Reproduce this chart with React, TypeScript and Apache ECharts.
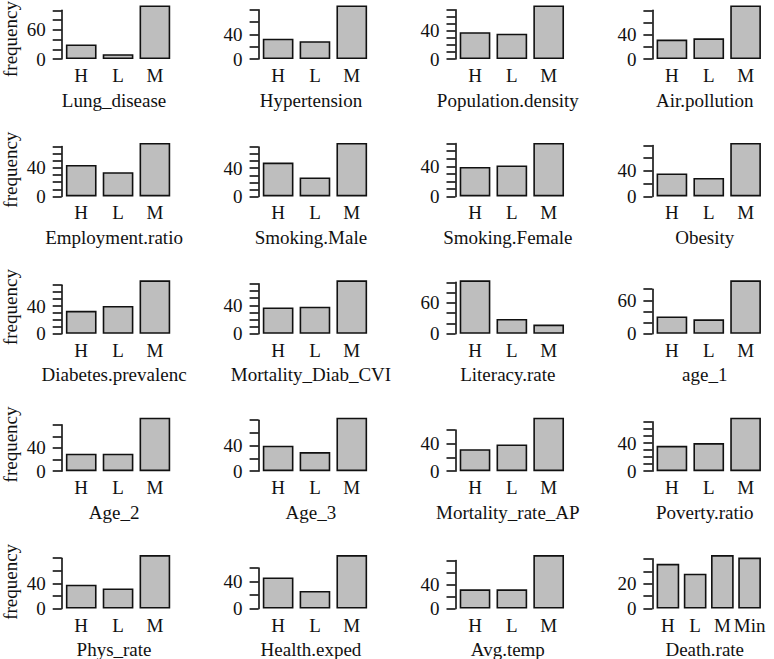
import React, { useEffect, useRef } from "react";
import * as echarts from "echarts";

// ---------- data ----------
const panelNames = [
  "Lung_disease", "Hypertension", "Population.density", "Air.pollution",
  "Employment.ratio", "Smoking.Male", "Smoking.Female", "Obesity",
  "Diabetes.prevalenc", "Mortality_Diab_CVI", "Literacy.rate", "age_1",
  "Age_2", "Age_3", "Mortality_rate_AP", "Poverty.ratio",
  "Phys_rate", "Health.exped", "Avg.temp", "Death.rate",
];
const levels3 = ["H", "L", "M"];
const levelsDeath = ["H", "L", "M", "Min"];

const lungDisease = [30, 10, 110];
const hypertension = [33, 29, 87];
const populationDensity = [38, 36, 76];
const airPollution = [32, 34, 88];
const employmentRatio = [44, 34, 75];
const smokingMale = [48, 27, 76];
const smokingFemale = [39, 41, 71];
const obesity = [36, 29, 84];
const diabetesPrevalenc = [33, 40, 77];
const mortalityDiabCVI = [37, 38, 75];
const literacyRate = [104, 29, 18];
const age1 = [31, 26, 96];
const age2 = [30, 30, 92];
const age3 = [40, 30, 84];
const mortalityRateAP = [32, 39, 78];
const povertyRatio = [36, 40, 76];
const physRate = [38, 32, 85];
const healthExped = [46, 26, 79];
const avgTemp = [32, 32, 89];
const deathRate = [36, 28, 43, 41];

// y-axis tick step, last tick, and tick labels that are printed
const tickStep = [20, 20, 10, 20, 10, 10, 10, 20, 10, 10, 20, 20, 20, 20, 20, 10, 20, 20, 20, 10];
const tickTop = [100, 80, 70, 80, 70, 70, 70, 80, 70, 70, 100, 80, 80, 80, 60, 70, 80, 60, 80, 40];
const tickLabels = [
  [0, 60], [0, 40], [0, 40], [0, 40],
  [0, 40], [0, 40], [0, 40], [0, 40],
  [0, 40], [0, 40], [0, 60], [0, 60],
  [0, 40], [0, 40], [0, 40], [0, 40],
  [0, 40], [0, 40], [0, 40], [0, 20],
];
const yLabel = "frequency";

const panelValues = [
  lungDisease, hypertension, populationDensity, airPollution,
  employmentRatio, smokingMale, smokingFemale, obesity,
  diabetesPrevalenc, mortalityDiabCVI, literacyRate, age1,
  age2, age3, mortalityRateAP, povertyRatio,
  physRate, healthExped, avgTemp, deathRate,
];
const panelCats = panelNames.map((n) => (n === "Death.rate" ? levelsDeath : levels3));

// ---------- layout ----------
const COL0 = 61.7;
const COLW = 196.9;
const ROW0 = 59;
const ROWH = 137.4;
const PLOTW = 112.7;
const BARH = 53.5;
const FONT = "Liberation Serif, Times New Roman, serif";
const FS = 19;
const INK = "#111";

function buildOption() {
  const grid: any[] = [];
  const xAxis: any[] = [];
  const yAxis: any[] = [];
  const series: any[] = [];
  const graphic: any[] = [];

  panelNames.forEach((name, i) => {
    const r = Math.floor(i / 4);
    const c = i % 4;
    const cats = panelCats[i];
    const vals = panelValues[i];
    const n = cats.length;
    const span = (1.2 * n - 0.2) * 1.08;
    const u = PLOTW / span;
    const regionLeft = COL0 + c * COLW;
    const off = (0.04 * (1.2 * n - 0.2) - 0.1) * u;
    const gridLeft = regionLeft + off;
    const gridW = 1.2 * n * u;
    const maxV = Math.max(...vals);
    const s = BARH / maxV;
    const y0 = ROW0 + r * ROWH;
    const gridH = tickTop[i] * s;
    grid.push({ left: gridLeft, top: y0 - gridH, width: gridW, height: gridH, containLabel: false });
    const shown = tickLabels[i];
    xAxis.push({
      type: "category",
      gridIndex: i,
      data: cats,
      axisLine: { show: false },
      axisTick: { show: false },
      axisLabel: { margin: 7, color: INK, fontFamily: FONT, fontSize: FS, interval: 0 },
      splitLine: { show: false },
    });
    yAxis.push({
      type: "value",
      gridIndex: i,
      min: 0,
      max: tickTop[i],
      interval: tickStep[i],
      offset: off,
      axisLine: { show: true, lineStyle: { color: INK, width: 1.6 } },
      axisTick: { show: true, length: 9, lineStyle: { color: INK, width: 1.6 } },
      axisLabel: {
        margin: 16,
        color: INK,
        fontFamily: FONT,
        fontSize: FS,
        formatter: (v: number) => (shown.includes(v) ? String(v) : ""),
      },
      splitLine: { show: false },
    });
    series.push({
      type: "bar",
      xAxisIndex: i,
      yAxisIndex: i,
      data: vals,
      barWidth: u,
      clip: false,
      itemStyle: { color: "#bebebe", borderColor: INK, borderWidth: 1.6 },
    });
    graphic.push({
      type: "text",
      x: regionLeft + PLOTW / 2 - 4,
      y: y0 + 41,
      style: {
        text: name,
        fill: INK,
        font: `${FS}px ${FONT}`,
        align: "center",
        verticalAlign: "middle",
      },
    });
    if (c === 0) {
      // keep the top row's label inside the page
      const cy = Math.max(y0 - BARH / 2, 39);
      graphic.push({
        type: "text",
        x: 10,
        y: cy,
        rotation: Math.PI / 2,
        style: {
          text: yLabel,
          fill: INK,
          font: `${FS}px ${FONT}`,
          align: "center",
          verticalAlign: "middle",
        },
      });
    }
  });

  return {
    animation: false,
    backgroundColor: "#ffffff",
    grid,
    xAxis,
    yAxis,
    series,
    graphic,
  };
}

export default function App() {
  const ref = useRef<HTMLDivElement>(null);
  useEffect(() => {
    if (!ref.current) return;
    const chart = echarts.init(ref.current, undefined, { renderer: "svg" });
    chart.setOption(buildOption() as any);
    return () => chart.dispose();
  }, []);
  return (
    <div
      ref={ref}
      style={{ position: "fixed", left: 0, top: 0, width: 774, height: 659, background: "#fff" }}
    />
  );
}
